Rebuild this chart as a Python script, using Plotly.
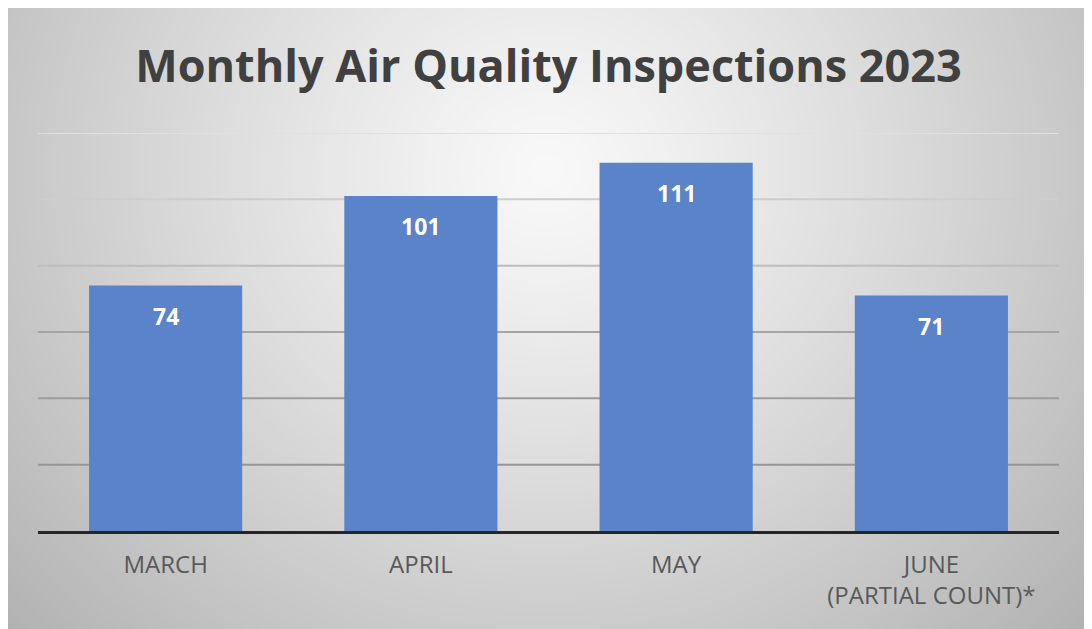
import base64, struct, zlib
import numpy as np
import plotly.graph_objects as go

# ---- data ----
categories = ["MARCH", "APRIL", "MAY", "JUNE<br>(PARTIAL COUNT)*"]
inspections = [74, 101, 111, 71]
y_ticks = [20, 40, 60, 80, 100, 120]
grid_colors = ["#969696", "#9c9c9c", "#a4a4a4", "#bdbdbd", "#cdcdcd", "#e0e0e0"]

OFF = 8  # page body margin
W, H = 1092 - OFF, 629 - OFF
L = 38 - OFF
R = W - (1059 - OFF)
T = 133 - OFF
B = H - (531 - OFF)
pw, ph = W - L - R, H - T - B

# ---- background gradient as PNG (figure pixel coords) ----
bw, bh = W, H
xs = np.arange(bw) + OFF
ys = np.arange(bh) + OFF
X, Y = np.meshgrid(xs, ys)
dx = (X - 546) / 560.0
dy = (Y - 170) / 520.0
d = np.sqrt(dx ** 2 + dy ** 2)
g = 249 - 52 * np.clip(d, 0, 1.4) ** 1.15
img = np.clip(g, 0, 255).astype(np.uint8)

def png_gray(a):
    h, w = a.shape
    raw = b"".join(b"\x00" + a[i].tobytes() for i in range(h))
    def chunk(t, data):
        c = struct.pack(">I", len(data)) + t + data
        return c + struct.pack(">I", zlib.crc32(t + data) & 0xffffffff)
    return (b"\x89PNG\r\n\x1a\n" + chunk(b"IHDR", struct.pack(">IIBBBBB", w, h, 8, 0, 0, 0, 0))
            + chunk(b"IDAT", zlib.compress(raw, 9)) + chunk(b"IEND", b""))

src = "data:image/png;base64," + base64.b64encode(png_gray(img)).decode()

fig = go.Figure()
fig.add_trace(go.Bar(
    x=categories, y=inspections, width=0.6,
    marker=dict(color="#5a83ca", line=dict(width=0)),
    hoverinfo="skip",
))

for c, v in zip(categories, inspections):
    fig.add_annotation(x=c, y=v, text=f"<b>{v}</b>", showarrow=False, yshift=-30,
                       font=dict(family="Open Sans", size=23, color="white"))

for t, col in zip(y_ticks, grid_colors):
    fig.add_shape(type="line", xref="paper", yref="y", x0=0, x1=1, y0=t, y1=t,
                  line=dict(color=col, width=2), layer="below")

fig.add_layout_image(dict(
    source=src, xref="paper", yref="paper",
    x=-L / pw, y=(H - B) / ph,
    sizex=bw / pw, sizey=bh / ph,
    xanchor="left", yanchor="top", sizing="stretch", layer="below",
))

fig.update_layout(
    width=W, height=H,
    margin=dict(l=L, r=R, t=T, b=B),
    paper_bgcolor="white", plot_bgcolor="rgba(0,0,0,0)",
    showlegend=False,
    bargap=0.4,
    title=dict(text="<b>Monthly Air Quality Inspections 2023</b>",
               x=0.5, xanchor="center", xref="paper",
               y=1 - (66 - OFF) / H, yref="container", yanchor="middle",
               font=dict(family="Open Sans", size=45, color="#404040")),
    xaxis=dict(showline=True, linecolor="#262626", linewidth=3, showgrid=False,
               ticks="", tickfont=dict(family="Open Sans", size=24, color="#595959"),
               ticklabelstandoff=10),
    yaxis=dict(range=[0, 120], showgrid=False, zeroline=False, showticklabels=False,
               showline=False),
)

fig.write_html("out.html")
